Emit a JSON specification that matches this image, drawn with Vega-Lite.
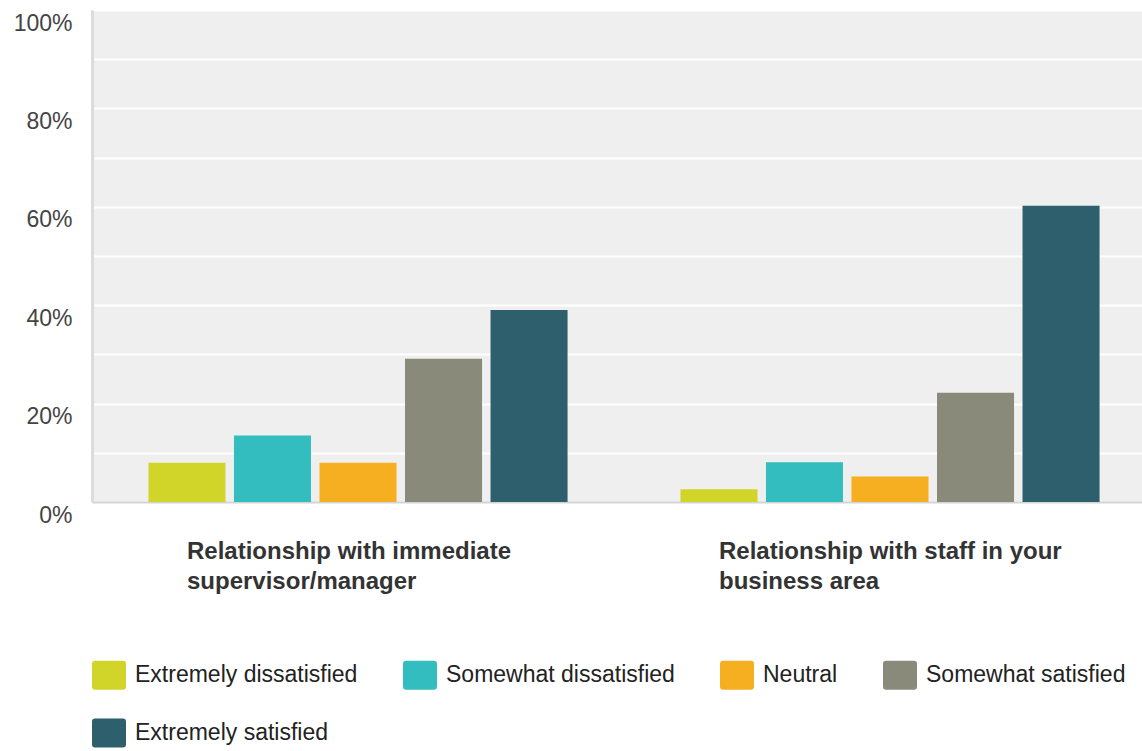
{
  "$schema": "https://vega.github.io/schema/vega-lite/v6.json",
  "autosize": {"type": "none"},
  "padding": {"left": 92, "top": 10, "right": 0, "bottom": 249},
  "width": 1050,
  "height": 492,
  "background": "white",
  "config": {
    "view": {"fill": "#efefef", "stroke": null},
    "font": "Liberation Sans"
  },
  "data": {
    "values": [
      {"aspect": "Relationship with immediate supervisor/manager", "rating": "Extremely dissatisfied", "share": 0.080},
      {"aspect": "Relationship with immediate supervisor/manager", "rating": "Somewhat dissatisfied", "share": 0.135},
      {"aspect": "Relationship with immediate supervisor/manager", "rating": "Neutral", "share": 0.080},
      {"aspect": "Relationship with immediate supervisor/manager", "rating": "Somewhat satisfied", "share": 0.291},
      {"aspect": "Relationship with immediate supervisor/manager", "rating": "Extremely satisfied", "share": 0.390},
      {"aspect": "Relationship with staff in your business area", "rating": "Extremely dissatisfied", "share": 0.026},
      {"aspect": "Relationship with staff in your business area", "rating": "Somewhat dissatisfied", "share": 0.081},
      {"aspect": "Relationship with staff in your business area", "rating": "Neutral", "share": 0.052},
      {"aspect": "Relationship with staff in your business area", "rating": "Somewhat satisfied", "share": 0.222},
      {"aspect": "Relationship with staff in your business area", "rating": "Extremely satisfied", "share": 0.602}
    ]
  },
  "mark": {"type": "bar"},
  "encoding": {
    "x": {
      "field": "aspect",
      "type": "nominal",
      "sort": null,
      "scale": {"range": [0, 1064], "paddingInner": 0, "paddingOuter": 0},
      "axis": {
        "title": null,
        "domain": true,
        "domainColor": "#d4d4d4",
        "domainWidth": 2,
        "ticks": false,
        "tickSize": 0,
        "labelAngle": 0,
        "labelAlign": "left",
        "labelBaseline": "top",
        "labelOffset": -171,
        "labelPadding": 37,
        "labelFontSize": 24,
        "labelFontWeight": "bold",
        "labelColor": "#333333",
        "labelLineHeight": 30,
        "labelLimit": 600,
        "labelExpr": "[slice(datum.label, 0, lastindexof(slice(datum.label, 0, 32), ' ')), slice(datum.label, lastindexof(slice(datum.label, 0, 32), ' ') + 1)]"
      }
    },
    "xOffset": {
      "field": "rating",
      "type": "nominal",
      "sort": ["Extremely dissatisfied", "Somewhat dissatisfied", "Neutral", "Somewhat satisfied", "Extremely satisfied"],
      "scale": {"paddingInner": 0.0994, "paddingOuter": 0.66}
    },
    "y": {
      "field": "share",
      "type": "quantitative",
      "scale": {"domain": [0, 1], "nice": false},
      "axis": {
        "title": null,
        "values": [0, 0.1, 0.2, 0.3, 0.4, 0.5, 0.6, 0.7, 0.8, 0.9, 1],
        "format": ".0%",
        "labelExpr": "round(datum.value * 10) % 2 == 0 ? datum.label : ''",
        "grid": true,
        "gridColor": "#ffffff",
        "gridWidth": 2,
        "ticks": false,
        "tickSize": 0,
        "domain": true,
        "domainColor": "#dcdcdc",
        "domainWidth": 3,
        "labelPadding": 20,
        "labelFontSize": 23,
        "labelColor": "#444444",
        "labelBaseline": "top",
        "labelOffset": 2
      }
    },
    "color": {
      "field": "rating",
      "type": "nominal",
      "scale": {
        "domain": ["Extremely dissatisfied", "Somewhat dissatisfied", "Neutral", "Somewhat satisfied", "Extremely satisfied"],
        "range": ["#d1d52a", "#33bdbf", "#f6af20", "#8a8a7a", "#2e5f6c"]
      },
      "legend": {
        "title": null,
        "orient": "bottom",
        "direction": "horizontal",
        "columns": 4,
        "offset": 65,
        "symbolType": "M-0.82,-0.85H0.82Q1,-0.85 1,-0.67V0.67Q1,0.85 0.82,0.85H-0.82Q-1,0.85 -1,0.67V-0.67Q-1,-0.85 -0.82,-0.85Z",
        "symbolSize": 1156,
        "symbolStrokeWidth": 0,
        "symbolOpacity": 1,
        "labelFontSize": 23,
        "labelColor": "#222222",
        "labelOffset": 9,
        "labelLimit": 500,
        "columnPadding": 45,
        "rowPadding": 26
      }
    }
  }
}
